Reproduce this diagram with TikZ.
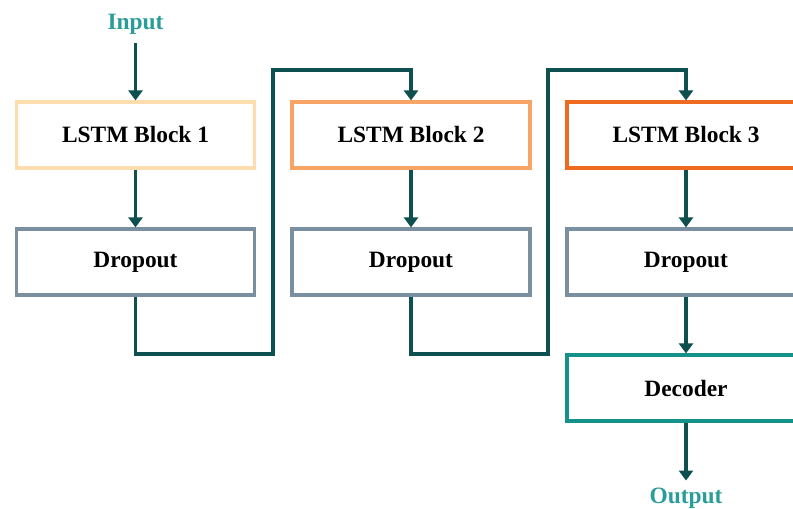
\documentclass[tikz,border=0pt]{standalone}
\usepackage{fontspec}
\setmainfont{Liberation Serif}
\usetikzlibrary{arrows.meta}
\definecolor{arrcol}{HTML}{0E4F4F}
\definecolor{txtteal}{HTML}{2A9D9A}
\definecolor{lstmA}{HTML}{FDDDAE}
\definecolor{lstmB}{HTML}{F8A467}
\definecolor{lstmC}{HTML}{EE6A1E}
\definecolor{dropcol}{HTML}{7A8FA0}
\definecolor{deccol}{HTML}{14918A}
\tikzset{
  blockbox/.style={draw, line width=3.2pt, fill=white, minimum width=238pt, minimum height=66pt, inner sep=0pt,
    font=\fontsize{23.4}{26}\selectfont\bfseries},
  arr/.style={draw=arrcol, line width=3.2pt, -{Triangle[width=14pt,length=10pt]}},
  iolabel/.style={text=txtteal, font=\fontsize{23.4}{26}\selectfont\bfseries, inner sep=2pt}
}
\begin{document}
\begin{tikzpicture}[x=1pt,y=1pt]
\useasboundingbox (0,0) rectangle (793,509);
\fill[white] (0,0) rectangle (793,509);
% LSTM row
\node[blockbox, draw=lstmA] (b1) at (135.5,374) {LSTM Block 1};
\node[blockbox, draw=lstmB] (b2) at (411,374) {LSTM Block 2};
\node[blockbox, draw=lstmC] (b3) at (686,374) {LSTM Block 3};
% Dropout row
\node[blockbox, draw=dropcol] (d1) at (135.5,247) {Dropout};
\node[blockbox, draw=dropcol] (d2) at (411,247) {Dropout};
\node[blockbox, draw=dropcol] (d3) at (686,247) {Dropout};
% Decoder
\node[blockbox, draw=deccol] (dec) at (686,121) {Decoder};
% labels
\node[iolabel] (in) at (135.5,485) {Input};
\node[iolabel] (out) at (686,11) {Output};
% route coordinates
\coordinate (c1a) at (273,155);
\coordinate (c1b) at (273,439);
\coordinate (c2a) at (548,155);
\coordinate (c2b) at (548,439);
% connectors
\draw[arr, shorten <=7pt] (in.south) -- (b1.north);
\draw[arr] (b1.south) -- (d1.north);
\draw[arr] (b2.south) -- (d2.north);
\draw[arr] (b3.south) -- (d3.north);
\draw[arr] (d3.south) -- (dec.north);
\draw[arr, shorten >=5pt] (dec.south) -- (out.north);
\draw[arr] (d1.south) |- (c1a) -- (c1b) -| (b2.north);
\draw[arr] (d2.south) |- (c2a) -- (c2b) -| (b3.north);
\end{tikzpicture}
\end{document}
